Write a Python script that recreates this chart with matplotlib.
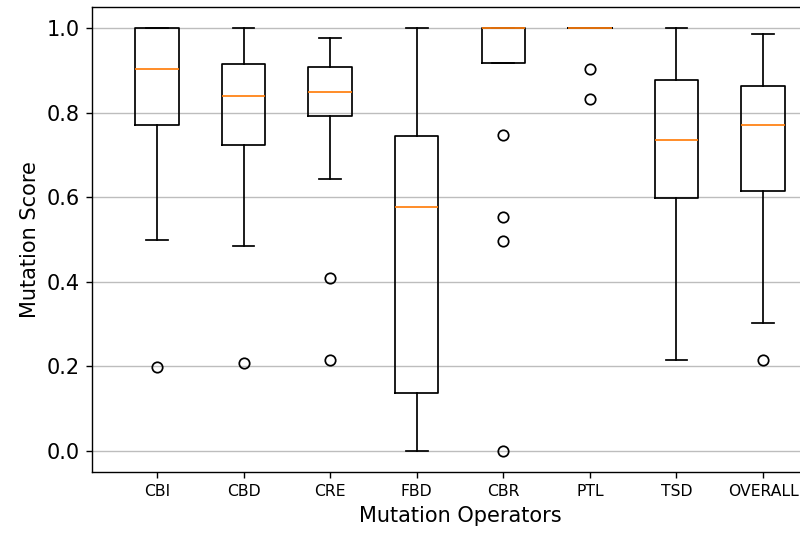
import matplotlib
matplotlib.use("Agg")
import matplotlib.pyplot as plt

# operadores e estatisticas
operadores = ['CBI', 'CBD', 'CRE', 'FBD', 'CBR', 'PTL', 'TSD', 'OVERALL']
medianas = [0.904, 0.839, 0.849, 0.578, 1.0, 1.0, 0.735, 0.771]
q1 = [0.771, 0.723, 0.792, 0.138, 0.917, 1.0, 0.598, 0.615]
q3 = [1.0, 0.914, 0.907, 0.745, 1.0, 1.0, 0.878, 0.863]
whis_inf = [0.498, 0.486, 0.644, 0.0, 0.917, 1.0, 0.216, 0.302]
whis_sup = [1.0, 1.0, 0.977, 1.0, 1.0, 1.0, 1.0, 0.987]
outliers = [
    [0.199],
    [0.208],
    [0.409, 0.215],
    [],
    [0.747, 0.553, 0.497, 0.0],
    [0.903, 0.833],
    [],
    [0.215],
]

stats = []
for i, nome in enumerate(operadores):
    stats.append({
        'label': nome,
        'med': medianas[i],
        'q1': q1[i],
        'q3': q3[i],
        'whislo': whis_inf[i],
        'whishi': whis_sup[i],
        'fliers': outliers[i],
    })

fig = plt.figure(figsize=(6.4, 4.288), dpi=125)
# o eixo passa da borda direita, como no original recortado
ax = fig.add_axes([0.115, 0.119, 0.92, 0.868])
ax.bxp(stats, showfliers=True)
ax.yaxis.grid(True, color='#bdbdbd')
ax.set_axisbelow(True)
ax.spines['right'].set_visible(False)
ax.set_xlim(0.25, 8.75)
ax.set_ylim(-0.05, 1.05)
ax.tick_params(axis='x', labelsize=9)
ax.tick_params(axis='y', labelsize=12)
ax.set_xlabel('Mutation Operators', fontsize=12)
ax.set_ylabel('Mutation Score', fontsize=12)

fig.savefig('out.png', dpi=125)
